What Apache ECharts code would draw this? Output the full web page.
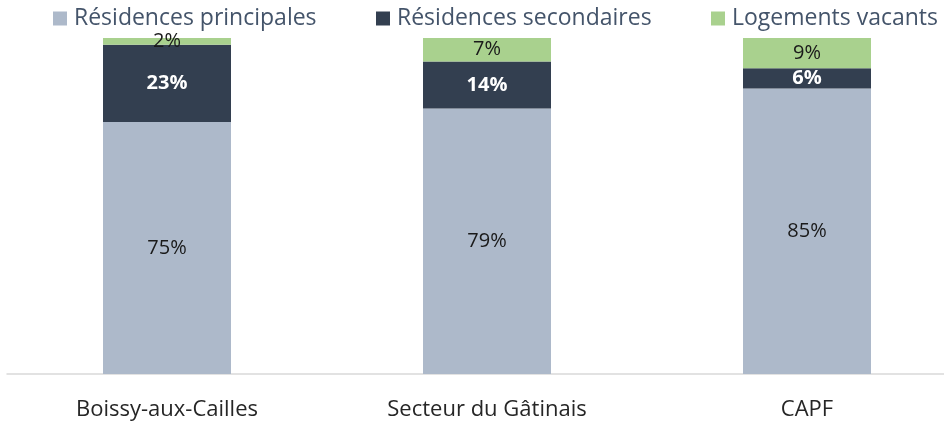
<!DOCTYPE html>
<html>
<head>
<meta charset="utf-8">
<script src="https://cdn.jsdelivr.net/npm/echarts@6/dist/echarts.min.js"></script>
<style>
  html, body { margin: 0; padding: 0; background: #fff; }
  #chart { width: 944px; height: 423px; }
</style>
</head>
<body>
<div id="chart"></div>
<script>
const categories = ['Boissy-aux-Cailles', 'Secteur du Gâtinais', 'CAPF']
const principales = [75, 79, 85]
const secondaires = [23, 14, 6]
const vacants = [2, 7, 9]

const font = 'Open Sans'
const chart = echarts.init(document.getElementById('chart'))

function legendAt(left, name) {
  return {
    left: left,
    top: 2,
    data: [name],
    icon: 'rect',
    itemWidth: 14,
    itemHeight: 14,
    itemGap: 8,
    textStyle: { fontFamily: font, fontSize: 23, color: '#44546A', padding: [0, 0, 0, 2] }
  }
}

const option = {
  animation: false,
  legend: [
    legendAt(48, 'Résidences principales'),
    legendAt(371, 'Résidences secondaires'),
    legendAt(706, 'Logements vacants')
  ],
  // the plot runs a bit past the right edge, like the cropped original
  grid: { left: 7, width: 960, top: 38, height: 336, outerBoundsMode: 'none' },
  xAxis: {
    type: 'category',
    data: categories,
    axisLine: { lineStyle: { color: '#d9d9d9', width: 1.5 } },
    axisTick: { show: false },
    axisLabel: { fontFamily: font, fontSize: 22, color: '#262626', margin: 25 }
  },
  yAxis: {
    type: 'value',
    min: 0,
    max: 100,
    show: false
  },
  series: [
    {
      name: 'Résidences principales',
      type: 'bar',
      stack: 'total',
      barWidth: 128,
      data: principales,
      itemStyle: { color: '#ADB9CA' },
      label: {
        show: true,
        formatter: '{c}%',
        fontFamily: font,
        fontSize: 20,
        color: '#1a1a1a'
      }
    },
    {
      name: 'Résidences secondaires',
      type: 'bar',
      stack: 'total',
      data: secondaires,
      itemStyle: { color: '#333F50' },
      label: {
        show: true,
        formatter: '{c}%',
        fontFamily: font,
        fontSize: 20,
        fontWeight: 'bold',
        color: '#ffffff'
      }
    },
    {
      name: 'Logements vacants',
      type: 'bar',
      stack: 'total',
      data: vacants,
      itemStyle: { color: '#A9D18E' },
      label: {
        show: true,
        formatter: '{c}%',
        fontFamily: font,
        fontSize: 20,
        color: '#1a1a1a'
      }
    }
  ]
}

chart.setOption(option)
</script>
</body>
</html>
